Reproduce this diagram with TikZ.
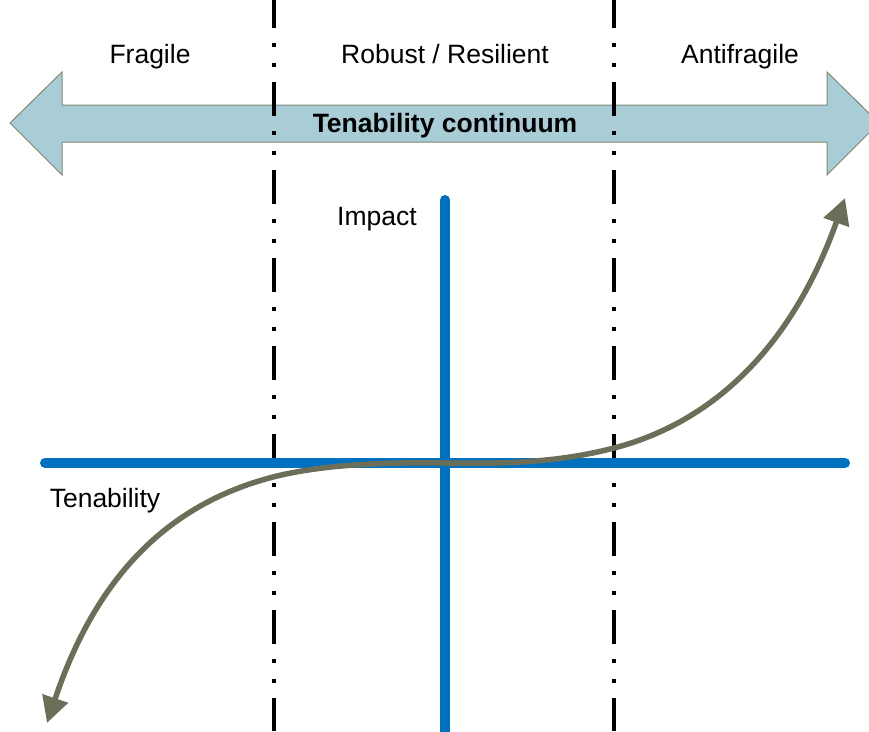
\documentclass[tikz,border=0pt]{standalone}
\usepackage{fontspec}
\setmainfont{Liberation Sans}
\usetikzlibrary{arrows.meta}

\definecolor{axisblue}{HTML}{0070C0}
\definecolor{bandfill}{HTML}{A9CDD6}
\definecolor{bandline}{HTML}{7F8874}
\definecolor{curvegrey}{HTML}{6B6E58}

\tikzset{
  label/.style = {font=\fontsize{26.5}{31}\selectfont, anchor=base},
  zoneline/.style = {line width=4pt, dash pattern=on 34pt off 15pt on 4pt off 16pt on 4pt off 15pt, dash phase=6pt},
  axis/.style = {axisblue, line width=10pt, line cap=round},
  tenab/.style = {curvegrey, line width=5.5pt, {Triangle[length=26pt,width=26pt]}-{Triangle[length=26pt,width=26pt]}}
}

\begin{document}
\begin{tikzpicture}[x=1pt,y=-1pt]
\useasboundingbox (0,0) rectangle (869,731);

% continuum band
\draw[fill=bandfill, draw=bandline, line width=1pt] (10,123) -- (62,72) -- (62,105) -- (827,105) -- (827,72) -- (879,123)
  -- (827,175) -- (827,142) -- (62,142) -- (62,175) -- cycle;
\node[label, font=\fontsize{26.5}{31}\selectfont\bfseries] (cont) at (445,132) {Tenability continuum};

% zone borders
\coordinate (za) at (274,0);
\coordinate (zb) at (274,731);
\coordinate (zc) at (614,0);
\coordinate (zd) at (614,731);
\draw[zoneline] (za) -- (zb);
\draw[zoneline] (zc) -- (zd);

\node[label] (fragile) at (150,63) {Fragile};
\node[label] (robust) at (445,63) {Robust / Resilient};
\node[label] (anti) at (740,63) {Antifragile};

% axes
\coordinate (xl) at (45,463);
\coordinate (xr) at (845,463);
\coordinate (yt) at (445,200);
\coordinate (yb) at (445,736);
\draw[axis] (xl) -- (xr);
\draw[axis] (yt) -- (yb);

\node[label] (impact) at (377,225) {Impact};
\node[label] (tenability) at (105,507) {Tenability};

% tenability curve
\coordinate (c0) at (47,723);
\coordinate (c1) at (273,477);
\coordinate (c2) at (445,463);
\coordinate (c3) at (614,448);
\coordinate (c4) at (845,198);
\draw[tenab] (c0) .. controls (95,580) and (165,505) .. (c1)
  .. controls (320,465) and (380,462) .. (c2)
  .. controls (510,464) and (560,462) .. (c3)
  .. controls (680,431) and (780,380) .. (c4);

\end{tikzpicture}
\end{document}
